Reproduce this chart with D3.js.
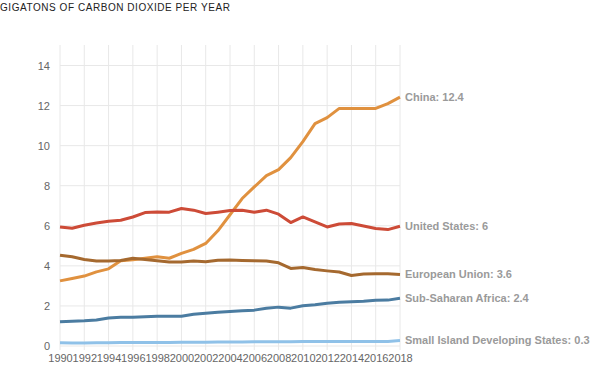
<!DOCTYPE html>
<html>
<head>
<meta charset="utf-8">
<script src="https://cdn.jsdelivr.net/npm/d3@7"></script>
<style>
  body { margin: 0; background: #fff; font-family: "Liberation Sans", Arial, sans-serif; }
</style>
</head>
<body>
<div id="chart"></div>
<script>
// data
var years = d3.range(1990, 2019);
var china = [3.25, 3.37, 3.49, 3.70, 3.85, 4.25, 4.30, 4.38, 4.45, 4.38, 4.62, 4.82, 5.12, 5.75, 6.55,
             7.36, 7.94, 8.50, 8.80, 9.40, 10.20, 11.10, 11.40, 11.86, 11.86, 11.86, 11.86, 12.10, 12.42];
var usa = [5.94, 5.88, 6.03, 6.14, 6.23, 6.28, 6.44, 6.66, 6.69, 6.68, 6.86, 6.78, 6.61, 6.68, 6.76,
           6.78, 6.68, 6.78, 6.58, 6.16, 6.44, 6.19, 5.94, 6.09, 6.11, 5.99, 5.86, 5.81, 5.98];
var eu = [4.53, 4.45, 4.32, 4.24, 4.24, 4.27, 4.38, 4.32, 4.25, 4.19, 4.19, 4.24, 4.20, 4.28, 4.29,
          4.27, 4.25, 4.24, 4.15, 3.87, 3.92, 3.82, 3.75, 3.69, 3.52, 3.59, 3.60, 3.60, 3.57];
var ssa = [1.21, 1.24, 1.26, 1.30, 1.40, 1.43, 1.43, 1.46, 1.49, 1.49, 1.49, 1.58, 1.64, 1.69, 1.72,
           1.76, 1.79, 1.88, 1.94, 1.89, 2.01, 2.06, 2.13, 2.18, 2.21, 2.23, 2.28, 2.29, 2.38];
var sids = [0.16, 0.15, 0.15, 0.16, 0.16, 0.17, 0.17, 0.18, 0.18, 0.18, 0.19, 0.19, 0.19, 0.20, 0.20,
            0.20, 0.21, 0.21, 0.21, 0.21, 0.22, 0.22, 0.22, 0.22, 0.22, 0.22, 0.22, 0.23, 0.27];
var seriesNames = ["China", "United States", "European Union", "Sub-Saharan Africa", "Small Island Developing States"];
var endLabels = ["12.4", "6", "3.6", "2.4", "0.3"];
var colors = ["#e0913f", "#cd4b37", "#a5692f", "#4b7ca1", "#8fc1e8"];
var yTicks = [0, 2, 4, 6, 8, 10, 12, 14];

var allSeries = [china, usa, eu, ssa, sids];

// set the dimensions and margins of the graph
var margin = {top: 45, right: 200, bottom: 32, left: 60},
    width = 600 - margin.left - margin.right,
    height = 382 - margin.top - margin.bottom;

var svg = d3.select("#chart")
  .append("svg")
    .attr("width", 600)
    .attr("height", 382);

// title
svg.append("text")
  .attr("x", 0)
  .attr("y", 11)
  .style("font-size", "10px")
  .style("letter-spacing", "0.55px")
  .style("fill", "#222")
  .text("GIGATONS OF CARBON DIOXIDE PER YEAR");

var g = svg.append("g")
  .attr("transform", "translate(" + margin.left + "," + margin.top + ")");

var x = d3.scaleLinear()
  .domain([1990, 2018])
  .range([0, width]);

var y = d3.scaleLinear()
  .domain([0, 14])
  .range([301, 20.5]);

// vertical grid
g.selectAll("vgrid")
  .data(d3.range(1990, 2019, 2))
  .enter()
  .append("line")
    .attr("x1", function(d) { return x(d); })
    .attr("x2", function(d) { return x(d); })
    .attr("y1", 0)
    .attr("y2", 305)
    .attr("stroke", "#e8e8e8")
    .attr("stroke-width", 1)

// horizontal grid
g.selectAll("hgrid")
  .data(yTicks)
  .enter()
  .append("line")
    .attr("x1", 0)
    .attr("x2", width)
    .attr("y1", function(d) { return y(d); })
    .attr("y2", function(d) { return y(d); })
    .attr("stroke", "#e8e8e8")
    .attr("stroke-width", 1)

// Y axis labels
var yAxis = g.append("g")
  .call(d3.axisLeft(y).tickValues(yTicks).tickSize(0).tickPadding(10))
yAxis.select(".domain").remove();
yAxis.selectAll("text")
  .style("font-family", "Liberation Sans, Arial, sans-serif")
  .style("font-size", "11px")
  .style("fill", "#666");

// X axis labels
var xAxis = g.append("g")
  .attr("transform", "translate(0,305)")
  .call(d3.axisBottom(x).tickValues(d3.range(1990, 2019, 2)).tickFormat(d3.format("d")).tickSize(0).tickPadding(4))
xAxis.select(".domain").remove();
xAxis.selectAll("text")
  .style("font-family", "Liberation Sans, Arial, sans-serif")
  .style("font-size", "11px")
  .style("fill", "#666");

// Lines
var line = d3.line()
  .x(function(d, i) { return x(years[i]); })
  .y(function(d) { return y(d); });

g.selectAll("series")
  .data(allSeries)
  .enter()
  .append("path")
    .attr("d", function(d) { return line(d); })
    .attr("fill", "none")
    .attr("stroke", function(d, i) { return colors[i]; })
    .attr("stroke-width", 3)
    .attr("stroke-linejoin", "round")

// end labels
g.selectAll("endlabel")
  .data(allSeries)
  .enter()
  .append("text")
    .attr("x", width + 5)
    .attr("y", function(d) { return y(d[d.length - 1]); })
    .attr("dy", "0.35em")
    .style("font-size", "11px")
    .style("font-weight", "bold")
    .style("fill", "#9a9a9a")
    .text(function(d, i) { return seriesNames[i] + ": " + endLabels[i]; })
</script>
</body>
</html>
